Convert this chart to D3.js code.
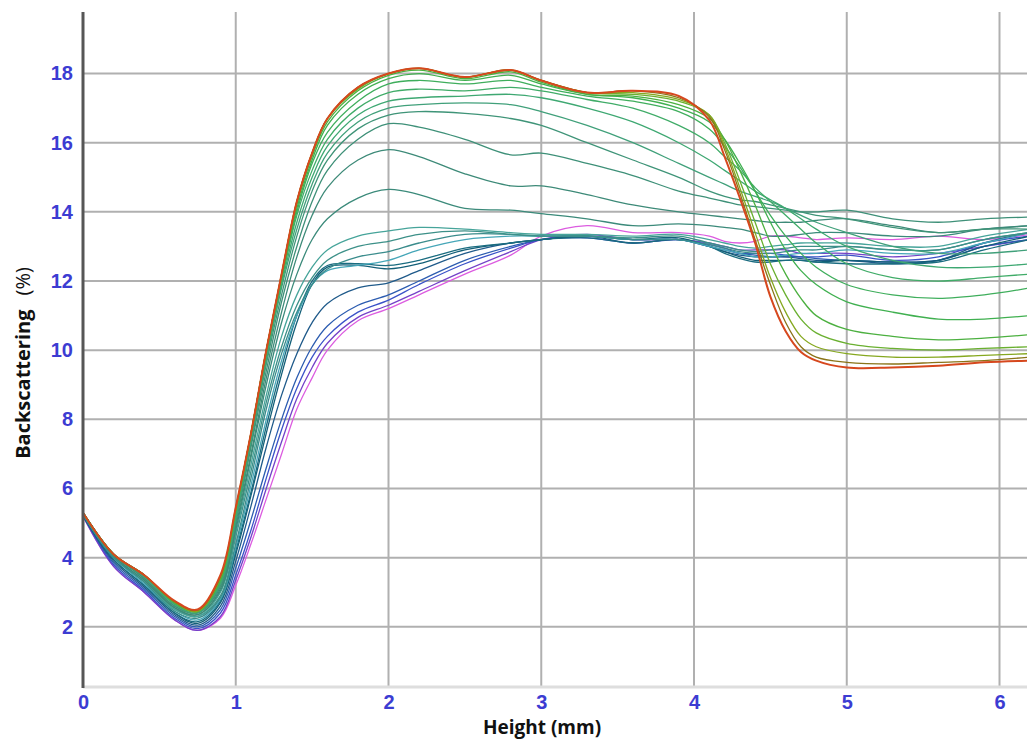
<!DOCTYPE html>
<html>
<head>
<meta charset="utf-8">
<script src="https://cdn.jsdelivr.net/npm/d3@7"></script>
<style>
	body { margin: 0; background: #fff; }
	svg { display: block; }
	.tick text { font-family: "Liberation Sans", Arial, sans-serif; font-weight: bold; font-size: 20px; fill: #3c3cd2; }
	.title { font-family: "Open Sans", sans-serif; font-weight: bold; fill: #111; }
</style>
</head>
<body>
<svg id="chart" width="1027" height="740"></svg>
<script>

// height (mm) where every scan was read
var heights = [0, 0.2, 0.4, 0.6, 0.75, 0.9, 1.0, 1.1, 1.2, 1.3, 1.4, 1.5, 1.6, 1.8, 2.0, 2.2, 2.5, 2.8, 3.0, 3.3, 3.6, 3.9, 4.1, 4.2, 4.3, 4.4, 4.5, 4.6, 4.7, 4.8, 5.0, 5.3, 5.6, 5.9, 6.2];

// backscattering (%) per scan, first scan to last
var scan01 = [5.2, 3.75, 3.0, 2.2, 1.9, 2.25, 3.2, 4.4, 5.7, 7.0, 8.3, 9.2, 10.0, 10.85, 11.2, 11.6, 12.2, 12.75, 13.3, 13.6, 13.4, 13.4, 13.3, 13.15, 13.1, 13.15, 13.3, 13.3, 13.25, 13.2, 13.25, 13.2, 13.3, 13.2, 13.35];
var scan02 = [5.2, 3.75, 3.0, 2.2, 1.9, 2.3, 3.35, 4.6, 6.0, 7.35, 8.6, 9.5, 10.2, 10.95, 11.3, 11.7, 12.3, 12.85, 13.2, 13.35, 13.2, 13.2, 13.1, 13.0, 12.9, 12.9, 12.9, 12.9, 12.8, 12.8, 12.8, 12.7, 12.8, 13.0, 13.2];
var scan03 = [5.25, 3.8, 3.05, 2.25, 1.95, 2.4, 3.5, 4.8, 6.3, 7.7, 8.9, 9.8, 10.4, 11.1, 11.45, 11.9, 12.5, 12.95, 13.2, 13.25, 13.1, 13.2, 13.05, 12.95, 12.8, 12.8, 12.8, 12.75, 12.7, 12.7, 12.75, 12.6, 12.7, 13.1, 13.3];
var scan04 = [5.25, 3.85, 3.1, 2.3, 2.0, 2.5, 3.7, 5.1, 6.6, 8.0, 9.2, 10.1, 10.7, 11.3, 11.6, 12.0, 12.6, 13.0, 13.2, 13.3, 13.2, 13.2, 13.0, 12.9, 12.8, 12.75, 12.7, 12.7, 12.7, 12.65, 12.6, 12.55, 12.6, 13.0, 13.2];
var scan05 = [5.2, 3.9, 3.15, 2.35, 2.05, 2.6, 3.9, 5.5, 7.2, 8.7, 9.9, 10.8, 11.35, 11.8, 11.95, 12.3, 12.8, 13.1, 13.2, 13.3, 13.1, 13.2, 13.0, 12.85, 12.75, 12.7, 12.7, 12.7, 12.65, 12.6, 12.6, 12.5, 12.6, 13.1, 13.4];
var scan06 = [5.25, 3.95, 3.2, 2.4, 2.1, 2.7, 4.1, 5.8, 7.6, 9.3, 10.8, 11.9, 12.4, 12.45, 12.35, 12.5, 12.9, 13.1, 13.2, 13.3, 13.2, 13.25, 13.0, 12.85, 12.7, 12.6, 12.6, 12.6, 12.6, 12.55, 12.6, 12.55, 12.6, 13.0, 13.3];
var scan07 = [5.25, 3.95, 3.2, 2.4, 2.15, 2.75, 4.2, 5.9, 7.8, 9.5, 11.0, 12.0, 12.45, 12.5, 12.45, 12.6, 12.95, 13.1, 13.2, 13.25, 13.1, 13.2, 13.0, 12.8, 12.65, 12.55, 12.55, 12.6, 12.6, 12.55, 12.5, 12.5, 12.55, 12.9, 13.2];
var scan08 = [5.25, 4.0, 3.25, 2.45, 2.2, 2.8, 4.3, 6.1, 8.0, 9.7, 11.0, 11.9, 12.3, 12.45, 12.6, 12.9, 13.2, 13.3, 13.3, 13.3, 13.2, 13.2, 13.0, 12.9, 12.8, 12.7, 12.7, 12.75, 12.8, 12.8, 12.9, 12.8, 12.8, 13.1, 13.4];
var scan09 = [5.25, 4.0, 3.3, 2.45, 2.25, 2.85, 4.4, 6.3, 8.3, 9.9, 11.1, 11.9, 12.35, 12.7, 12.85, 13.1, 13.35, 13.35, 13.3, 13.3, 13.2, 13.2, 13.05, 12.95, 12.85, 12.8, 12.8, 12.85, 12.9, 12.9, 13.0, 12.9, 12.9, 13.2, 13.4];
var scan10 = [5.3, 4.05, 3.3, 2.5, 2.3, 2.9, 4.6, 6.5, 8.5, 10.1, 11.3, 12.1, 12.6, 13.0, 13.15, 13.35, 13.45, 13.35, 13.3, 13.3, 13.25, 13.3, 13.1, 13.0, 12.9, 12.85, 12.9, 12.95, 13.0, 13.0, 13.0, 12.9, 12.9, 13.2, 13.4];
var scan11 = [5.3, 4.05, 3.35, 2.5, 2.3, 3.0, 4.7, 6.7, 8.7, 10.4, 11.6, 12.4, 12.9, 13.3, 13.45, 13.55, 13.5, 13.4, 13.35, 13.35, 13.3, 13.35, 13.2, 13.1, 13.0, 12.95, 13.0, 13.05, 13.1, 13.1, 13.1, 13.0, 13.0, 13.3, 13.5];
var scan12 = [5.3, 4.05, 3.35, 2.55, 2.35, 3.05, 4.8, 6.9, 9.0, 10.8, 12.2, 13.2, 13.8, 14.4, 14.65, 14.5, 14.1, 14.05, 13.95, 13.8, 13.6, 13.65, 13.6, 13.55, 13.5, 13.4, 13.3, 13.3, 13.35, 13.4, 13.4, 13.3, 13.3, 13.5, 13.6];
var scan13 = [5.3, 4.1, 3.4, 2.55, 2.35, 3.1, 4.9, 7.0, 9.2, 11.1, 12.7, 13.9, 14.7, 15.5, 15.8, 15.6, 15.1, 14.75, 14.75, 14.5, 14.2, 14.0, 13.9, 13.85, 13.8, 13.75, 13.7, 13.7, 13.7, 13.75, 13.8, 13.6, 13.4, 13.5, 13.6];
var scan14 = [5.3, 4.1, 3.4, 2.6, 2.4, 3.15, 5.0, 7.2, 9.4, 11.4, 13.0, 14.3, 15.2, 16.1, 16.55, 16.45, 16.1, 15.65, 15.7, 15.4, 15.05, 14.6, 14.4, 14.3, 14.2, 14.15, 14.1, 14.05, 14.0, 14.0, 14.05, 13.8, 13.7, 13.8, 13.85];
var scan15 = [5.3, 4.1, 3.45, 2.6, 2.4, 3.2, 5.1, 7.3, 9.6, 11.6, 13.3, 14.6, 15.5, 16.4, 16.8, 16.9, 16.85, 16.7, 16.5, 16.0, 15.5, 15.0, 14.6, 14.45, 14.35, 14.3, 14.2, 14.1, 14.0, 13.9, 13.8, 13.55, 13.4, 13.5, 13.5];
var scan16 = [5.3, 4.1, 3.45, 2.65, 2.4, 3.25, 5.1, 7.4, 9.7, 11.8, 13.5, 14.8, 15.7, 16.6, 17.0, 17.1, 17.15, 17.1, 16.9, 16.5, 16.0, 15.4, 15.0, 14.8, 14.6, 14.45, 14.3, 14.1, 13.9, 13.7, 13.4, 13.0, 12.8, 12.8, 12.9];
var scan17 = [5.3, 4.1, 3.5, 2.65, 2.45, 3.3, 5.2, 7.5, 9.8, 11.9, 13.7, 15.0, 15.9, 16.8, 17.2, 17.3, 17.35, 17.4, 17.3, 17.0, 16.6, 16.0, 15.5, 15.2, 14.9, 14.6, 14.35, 14.1, 13.8, 13.5, 13.0, 12.6, 12.4, 12.4, 12.5];
var scan18 = [5.3, 4.1, 3.5, 2.7, 2.45, 3.3, 5.3, 7.55, 9.9, 12.0, 13.9, 15.2, 16.1, 17.0, 17.45, 17.55, 17.5, 17.6, 17.5, 17.25, 17.0, 16.5, 16.0, 15.6, 15.2, 14.7, 14.3, 13.9, 13.5, 13.1, 12.5, 12.1, 12.0, 12.1, 12.2];
var scan19 = [5.3, 4.1, 3.5, 2.7, 2.45, 3.35, 5.35, 7.55, 9.9, 12.1, 14.0, 15.4, 16.3, 17.2, 17.7, 17.8, 17.7, 17.8, 17.6, 17.35, 17.2, 16.9, 16.4, 15.9, 15.3, 14.6, 13.9, 13.3, 12.8, 12.4, 11.9, 11.6, 11.5, 11.6, 11.8];
var scan20 = [5.3, 4.1, 3.5, 2.7, 2.45, 3.4, 5.4, 7.6, 10.0, 12.1, 14.1, 15.5, 16.5, 17.4, 17.85, 18.0, 17.8, 17.95, 17.7, 17.4, 17.3, 17.0, 16.6, 16.1, 15.4, 14.6, 13.7, 12.9, 12.3, 11.9, 11.4, 11.1, 10.9, 10.9, 11.0];
var scan21 = [5.3, 4.1, 3.5, 2.7, 2.45, 3.4, 5.4, 7.6, 10.0, 12.1, 14.2, 15.6, 16.6, 17.5, 17.95, 18.1, 17.85, 18.05, 17.75, 17.4, 17.35, 17.1, 16.7, 16.1, 15.2, 14.2, 13.1, 12.2, 11.5, 11.0, 10.6, 10.4, 10.3, 10.35, 10.45];
var scan22 = [5.3, 4.1, 3.5, 2.72, 2.45, 3.4, 5.4, 7.6, 10.0, 12.2, 14.3, 15.7, 16.7, 17.55, 18.0, 18.15, 17.9, 18.1, 17.8, 17.45, 17.4, 17.2, 16.8, 16.0, 14.9, 13.7, 12.5, 11.6, 10.9, 10.5, 10.2, 10.05, 10.0, 10.05, 10.1];
var scan23 = [5.3, 4.1, 3.5, 2.72, 2.45, 3.45, 5.4, 7.6, 10.0, 12.2, 14.3, 15.7, 16.7, 17.6, 18.0, 18.15, 17.9, 18.1, 17.8, 17.45, 17.45, 17.25, 16.8, 15.9, 14.7, 13.4, 12.1, 11.1, 10.4, 10.1, 9.9, 9.8, 9.8, 9.85, 9.9];
var scan24 = [5.3, 4.1, 3.5, 2.73, 2.48, 3.45, 5.45, 7.6, 10.0, 12.2, 14.3, 15.7, 16.7, 17.6, 18.0, 18.15, 17.9, 18.1, 17.8, 17.45, 17.5, 17.3, 16.75, 15.8, 14.55, 13.2, 11.9, 10.8, 10.1, 9.8, 9.65, 9.6, 9.65, 9.7, 9.8];
var scan25 = [5.3, 4.1, 3.5, 2.75, 2.5, 3.5, 5.45, 7.6, 10.0, 12.2, 14.3, 15.7, 16.7, 17.6, 18.0, 18.15, 17.9, 18.1, 17.8, 17.45, 17.5, 17.35, 16.65, 15.6, 14.4, 13.1, 11.55, 10.55, 9.95, 9.7, 9.5, 9.5, 9.55, 9.65, 9.7];

var scans = [scan01, scan02, scan03, scan04, scan05, scan06, scan07, scan08, scan09, scan10,
	scan11, scan12, scan13, scan14, scan15, scan16, scan17, scan18, scan19, scan20,
	scan21, scan22, scan23, scan24, scan25];

var scanColors = ['#dc5ce0', '#7442c8', '#3a52c8', '#2c5cb0', '#1f5a8a', '#135f78', '#1a6c80', '#45a6b8', '#3a8c8c', '#3c9088',
	'#46a49a', '#3b8a7a', '#3d8a78', '#3e9078', '#3f9478', '#40a07a', '#3ea872', '#40ac68', '#3fae5c', '#40b050',
	'#4cb040', '#6ab030', '#86a820', '#8a7418', '#d6481e'];

var xTicks = [0, 1, 2, 3, 4, 5, 6];
var yTicks = [2, 4, 6, 8, 10, 12, 14, 16, 18];

var plotLeft = 83, plotRight = 1027, plotTop = 12, plotBottom = 687;

var x = d3.scaleLinear().domain([0, 6.18]).range([plotLeft, plotRight]);
var y = d3.scaleLinear().domain([0.26, 19.78]).range([plotBottom, plotTop]);

var svg = d3.select('#chart');

svg.append('clipPath').attr('id', 'plot')
	.append('rect')
	.attr('x', plotLeft).attr('y', plotTop)
	.attr('width', plotRight - plotLeft).attr('height', plotBottom - plotTop);

// grid
svg.append('g').selectAll('line')
	.data(yTicks)
	.enter().append('line')
	.attr('x1', plotLeft).attr('x2', plotRight)
	.attr('y1', function(d) { return y(d); })
	.attr('y2', function(d) { return y(d); })
	.attr('stroke', '#b0b0b0')
	.attr('stroke-width', 2);

svg.append('g').selectAll('line')
	.data(xTicks.slice(1))
	.enter().append('line')
	.attr('y1', plotTop).attr('y2', plotBottom)
	.attr('x1', function(d) { return x(d); })
	.attr('x2', function(d) { return x(d); })
	.attr('stroke', '#b0b0b0')
	.attr('stroke-width', 2);

// bottom axis line
svg.append('line')
	.attr('x1', plotLeft).attr('x2', plotRight)
	.attr('y1', plotBottom).attr('y2', plotBottom)
	.attr('stroke', '#dedede')
	.attr('stroke-width', 3);

// scans
var line = d3.line()
	.x(function(d, i) { return x(heights[i]); })
	.y(function(d) { return y(d); })
	.curve(d3.curveCatmullRom.alpha(0.5));

svg.append('g')
	.attr('clip-path', 'url(#plot)')
	.selectAll('path')
	.data(scans)
	.enter().append('path')
	.attr('d', line)
	.attr('fill', 'none')
	.attr('stroke', function(d, i) { return scanColors[i]; })
	.attr('stroke-width', function(d, i) { return i === scans.length - 1 ? 2 : 1.3; })
	.attr('stroke-linejoin', 'round');

// left axis line
svg.append('line')
	.attr('x1', plotLeft).attr('x2', plotLeft)
	.attr('y1', plotTop).attr('y2', plotBottom + 1)
	.attr('stroke', '#565656')
	.attr('stroke-width', 3);

// tick labels
var yAxis = svg.append('g')
	.attr('transform', 'translate(' + plotLeft + ',0)')
	.call(d3.axisLeft(y).tickValues(yTicks).tickFormat(d3.format('d')).tickSize(0).tickPadding(10));
yAxis.select('.domain').remove();

var xAxis = svg.append('g')
	.attr('transform', 'translate(0,' + plotBottom + ')')
	.call(d3.axisBottom(x).tickValues(xTicks).tickFormat(d3.format('d')).tickSize(0).tickPadding(8));
xAxis.select('.domain').remove();

// titles
svg.append('text')
	.attr('class', 'title')
	.attr('x', 542).attr('y', 734)
	.attr('text-anchor', 'middle')
	.style('font-size', '19px')
	.text('Height (mm)');

var yTitle = svg.append('text')
	.attr('class', 'title')
	.attr('transform', 'translate(30,363) rotate(-90)')
	.attr('text-anchor', 'middle')
	.style('font-size', '20px');
yTitle.append('tspan').text('Backscattering');
yTitle.append('tspan').attr('dx', 14).style('font-weight', 'normal').text('(%)');

</script>
</body>
</html>
